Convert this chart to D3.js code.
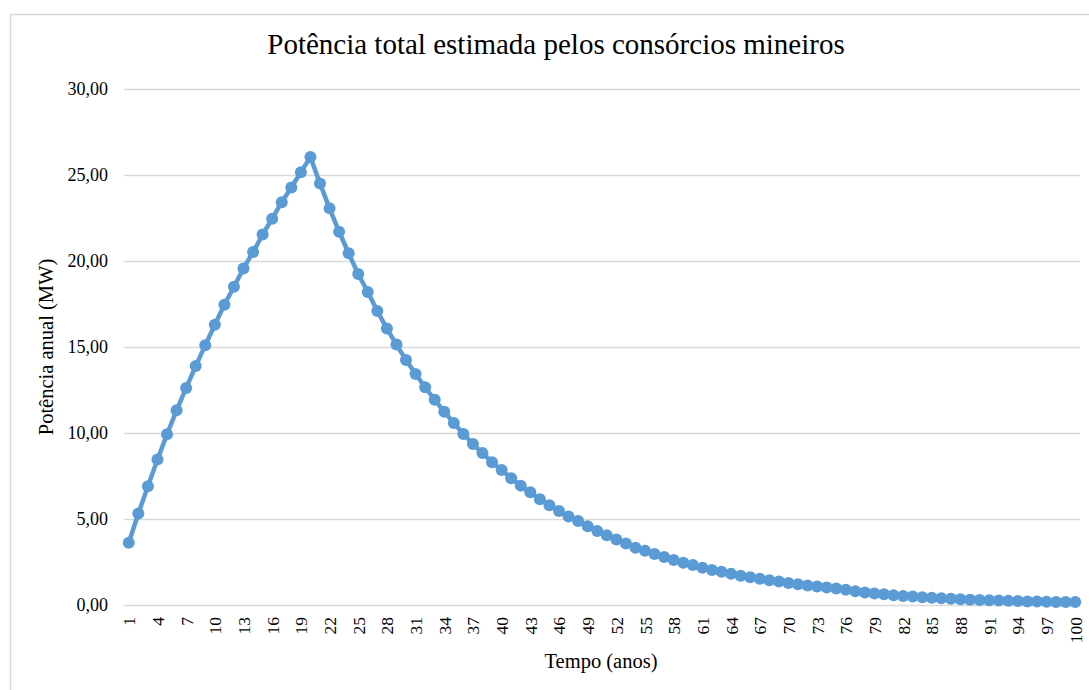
<!DOCTYPE html>
<html>
<head>
<meta charset="utf-8">
<script src="https://cdn.jsdelivr.net/npm/d3@7"></script>
<style>
  body { margin: 0; background: #fff; }
  text { font-family: "Liberation Serif", "Times New Roman", serif; fill: #000; }
</style>
</head>
<body>
<div id="canvas"></div>
<script>
"use strict"

/* data */
let chartTitle = "Potência total estimada pelos consórcios mineiros";
let xTitle = "Tempo (anos)";
let yTitle = "Potência anual (MW)";
let years = d3.range(1, 101);
let power = [
    3.62, 5.32, 6.90, 8.46, 9.93, 11.32, 12.62, 13.89, 15.10, 16.29,
    17.46, 18.50, 19.57, 20.52, 21.54, 22.46, 23.42, 24.27, 25.16, 26.04,
    24.51, 23.06, 21.70, 20.45, 19.24, 18.20, 17.09, 16.07, 15.14, 14.24,
    13.43, 12.66, 11.93, 11.24, 10.58, 9.94, 9.36, 8.83, 8.30, 7.85,
    7.37, 6.94, 6.55, 6.15, 5.80, 5.46, 5.15, 4.88, 4.58, 4.30,
    4.06, 3.81, 3.58, 3.33, 3.15, 2.97, 2.79, 2.62, 2.46, 2.33,
    2.16, 2.04, 1.93, 1.81, 1.70, 1.62, 1.52, 1.44, 1.36, 1.28,
    1.20, 1.14, 1.07, 1.02, 0.96, 0.88, 0.80, 0.73, 0.67, 0.62,
    0.57, 0.53, 0.49, 0.45, 0.42, 0.39, 0.36, 0.34, 0.31, 0.29,
    0.27, 0.26, 0.24, 0.23, 0.21, 0.20, 0.19, 0.18, 0.17, 0.17
];
let yTicks = [0, 5, 10, 15, 20, 25, 30];
let xTicks = years.filter(function (d) { return (d - 1) % 3 === 0; });

/* drawing config */
let svgWidth = 1089;
let svgHeight = 690;
let plot = { left: 124, right: 1080, top: 89, bottom: 605 };
let lineColor = "#5b9bd5";
let gridColor = "#d9d9d9";

let svg = d3.select("#canvas")
    .append("svg")
    .attr("width", svgWidth)
    .attr("height", svgHeight);

/* chart border (runs off the right and bottom edges) */
svg.append("rect")
    .attr("x", 10.5)
    .attr("y", 14.5)
    .attr("width", svgWidth)
    .attr("height", svgHeight)
    .attr("fill", "#fff")
    .attr("stroke", gridColor)
    .attr("stroke-width", 1.5);

let xScale = d3.scalePoint()
    .domain(years)
    .range([plot.left, plot.right])
    .padding(0.5);

let yScale = d3.scaleLinear()
    .domain([0, 30])
    .range([plot.bottom, plot.top]);

let ptBr = d3.formatLocale({ decimal: ",", thousands: ".", grouping: [3], currency: ["", ""] });

/* gridlines + y labels */
let yAxis = d3.axisLeft(yScale)
    .tickValues(yTicks)
    .tickSize(-(plot.right - plot.left))
    .tickPadding(16)
    .tickFormat(ptBr.format(".2f"));

let gy = svg.append("g")
    .attr("transform", "translate(" + plot.left + ",0)")
    .call(yAxis);
gy.select(".domain").remove();
gy.selectAll(".tick line")
    .attr("stroke", gridColor)
    .attr("stroke-width", 1.5);
gy.selectAll(".tick text")
    .attr("font-size", 18)
    .attr("font-family", "Liberation Serif")
    .attr("fill", "#000");

/* x axis, every third year, rotated */
let xAxis = d3.axisBottom(xScale)
    .tickValues(xTicks)
    .tickSize(0)
    .tickPadding(0);

let gx = svg.append("g")
    .attr("transform", "translate(0," + plot.bottom + ")")
    .call(xAxis);
gx.select(".domain").remove();
gx.selectAll(".tick text")
    .attr("font-size", 17.5)
    .attr("font-family", "Liberation Serif")
    .attr("fill", "#000")
    .attr("text-anchor", "end")
    .attr("dy", null)
    .attr("y", 0)
    .attr("x", -12)
    .attr("dominant-baseline", "central")
    .attr("transform", "rotate(-90)");

/* line + markers */
let points = years.map(function (y, i) { return { year: y, value: power[i] }; });

let line = d3.line()
    .x(function (d) { return xScale(d.year); })
    .y(function (d) { return yScale(d.value); });

svg.append("path")
    .datum(points)
    .attr("d", line)
    .attr("fill", "none")
    .attr("stroke", lineColor)
    .attr("stroke-width", 4.5)
    .attr("stroke-linejoin", "round");

svg.selectAll("circle.pt")
    .data(points)
    .join("circle")
    .attr("class", "pt")
    .attr("cx", function (d) { return xScale(d.year); })
    .attr("cy", function (d) { return yScale(d.value); })
    .attr("r", 6)
    .attr("fill", lineColor);

/* titles */
svg.append("text")
    .attr("x", 556)
    .attr("y", 54)
    .attr("text-anchor", "middle")
    .attr("font-size", 29)
    .text(chartTitle);

svg.append("text")
    .attr("x", 601)
    .attr("y", 668)
    .attr("text-anchor", "middle")
    .attr("font-size", 20.5)
    .text(xTitle);

svg.append("text")
    .attr("transform", "translate(53,347) rotate(-90)")
    .attr("text-anchor", "middle")
    .attr("font-size", 20.5)
    .text(yTitle);
</script>
</body>
</html>
